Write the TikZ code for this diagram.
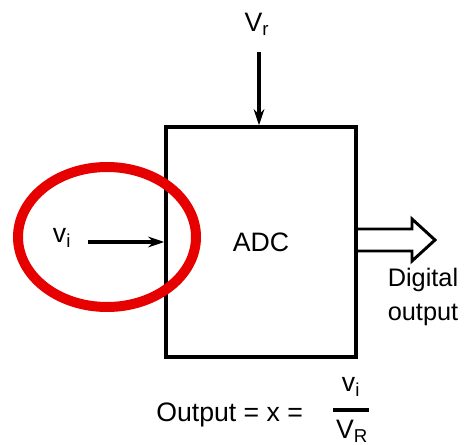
\documentclass[tikz,border=0pt]{standalone}
\usepackage{fontspec}
\setmainfont{Liberation Sans}
\usetikzlibrary{arrows.meta}
\definecolor{markred}{RGB}{230,0,0}
\begin{document}
\begin{tikzpicture}[x=0.75pt,y=-0.75pt,
  lbl/.style={font=\fontsize{20}{22}\selectfont, inner sep=0pt},
  arr/.style={line width=2.4pt, -{Stealth[length=12pt,width=8pt]}},
  boxst/.style={draw, line width=2.6pt, minimum width=142.5pt, minimum height=172.5pt,
     font=\fontsize{20}{22}\selectfont}]
\useasboundingbox (0,0) rectangle (467,445);
\node[boxst] (adc) at (261,242) {ADC};
% V_r input from top
\node[lbl] (vr) at (257,24) {V\textsubscript{r}};
\coordinate (vrin) at (259,52);
\draw[arr] (vrin) -- (vrin |- adc.north);
% v_i input from left
\node[lbl] (vi) at (62,238) {v\textsubscript{i}};
\coordinate (viin) at (88,242);
\draw[arr] (viin) -- (viin -| adc.west);
% hollow output arrow
\coordinate (o) at (adc.east |- 0,240);
\draw[line width=2.2pt, line join=miter] (o) ++(0,-11) -- (412,229) -- (412,219) -- (435,240) -- (412,261) -- (412,251) -- (o |- 0,251);
\node[lbl, align=center, font=\fontsize{19}{25}\selectfont] (dig) at (423,297) {Digital\\output};
% formula
\node[lbl, anchor=base west] (form) at (156,421) {Output = x =};
\node[lbl] (num) at (351,387) {v\textsubscript{i}};
\node[lbl] (den) at (352,431) {V\textsubscript{R}};
\draw[line width=2.4pt] (333,410) -- (369,410);
% red ellipse
\draw[markred, line width=7.5pt] (107,237) ellipse [x radius=89, y radius=70];
\end{tikzpicture}
\end{document}
